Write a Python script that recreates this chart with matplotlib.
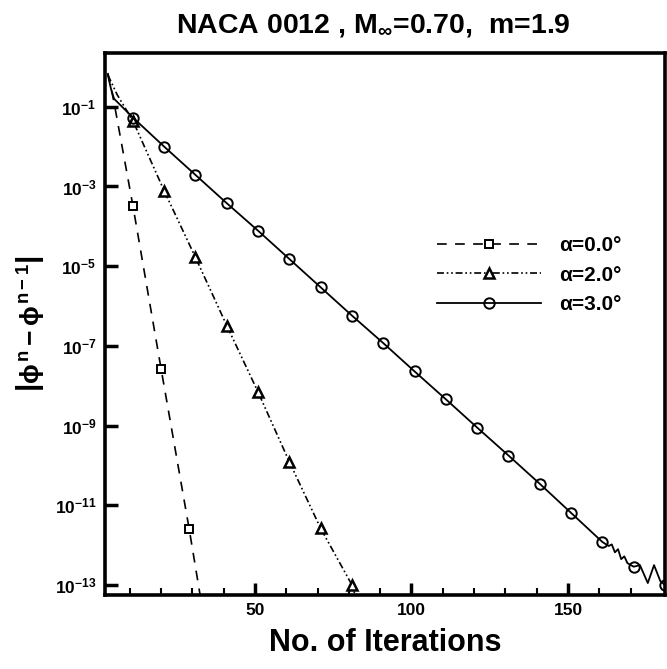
import numpy as np
import matplotlib
matplotlib.use('Agg')
import matplotlib.pyplot as plt
from matplotlib.ticker import FixedLocator, FuncFormatter

plt.rcParams['font.family'] = ['Liberation Sans', 'DejaVu Sans']
plt.rcParams['font.weight'] = 'bold'
plt.rcParams['mathtext.fontset'] = 'custom'
plt.rcParams['mathtext.rm'] = 'Liberation Sans:bold'
plt.rcParams['mathtext.it'] = 'Liberation Sans:bold'
plt.rcParams['mathtext.bf'] = 'Liberation Sans:bold'
plt.rcParams['lines.scale_dashes'] = False

# iteration number and log10 of the residual
sq_x = [3, 5, 11, 20, 29, 33]
sq_e = [-0.15, -0.9, -3.48, -7.57, -11.6, -13.5]
sq_marks = [11, 20, 29]

tri_x = [3, 6, 11, 21, 31, 41, 51, 61, 71, 81, 83]
tri_e = [-0.2, -0.7, -1.35, -3.11, -4.78, -6.49, -8.16, -9.91, -11.58, -13.0, -13.5]
tri_marks = [11, 21, 31, 41, 51, 61, 71, 81]

circ_x = [3, 4, 5, 11, 21, 31, 41, 51, 61, 71, 81, 91, 101, 111, 121, 131, 141, 151, 161,
          163, 164, 165, 166, 167, 168, 169, 171, 173, 175.5, 177.5, 179.5, 181]
circ_e = [-0.2, -0.55, -0.8, -1.27, -2.0, -2.71, -3.42, -4.11, -4.82, -5.53, -6.24, -6.93,
          -7.64, -8.34, -9.05, -9.75, -10.46, -11.19, -11.92,
          -12.02, -11.98, -12.18, -12.1, -12.35, -12.28, -12.45, -12.54,
          -12.5, -12.95, -12.5, -12.9, -13.0]
circ_marks = [11, 21, 31, 41, 51, 61, 71, 81, 91, 101, 111, 121, 131, 141, 151, 161, 171, 181]

labels = ['α=0.0°', 'α=2.0°', 'α=3.0°']
y_ticks = [-1, -3, -5, -7, -9, -11, -13]


def idx(xs, marks):
    return [i for i, v in enumerate(xs) if v in marks]


fig = plt.figure(figsize=(6.67, 6.69), dpi=100)
ax = fig.add_axes([0.157, 0.1106, 0.84, 0.8102])

ax.plot(sq_x, 10.0 ** np.array(sq_e), color='k', lw=1.2, dashes=(7, 6),
        marker='s', ms=5.5, mfc='white', mec='k', mew=1.4,
        markevery=idx(sq_x, sq_marks), label=labels[0])
ax.plot(tri_x, 10.0 ** np.array(tri_e), color='k', lw=1.2, dashes=(5, 2, 1.2, 2, 1.2, 2),
        marker='^', ms=6.5, mfc='white', mec='k', mew=1.8,
        markevery=idx(tri_x, tri_marks), label=labels[1])
ax.plot(circ_x, 10.0 ** np.array(circ_e), color='k', lw=1.3, ls='-',
        marker='o', ms=7.5, mfc='none', mec='k', mew=1.4,
        markevery=idx(circ_x, circ_marks), label=labels[2])

ax.set_yscale('log')
ax.set_ylim(10 ** -13.25, 10 ** 0.35)
ax.set_xlim(2, 181)

ax.yaxis.set_major_locator(FixedLocator([10.0 ** e for e in y_ticks]))
ax.yaxis.set_minor_locator(FixedLocator([]))
ax.yaxis.set_major_formatter(FuncFormatter(lambda v, p: r'$10^{%d}$' % round(np.log10(v))))
ax.set_xticks([50, 100, 150])
ax.set_xticks(np.arange(10, 180, 10), minor=True)

ax.tick_params(axis='both', which='major', direction='in', length=9, width=2.5,
               labelsize=12.5, pad=6)
ax.tick_params(axis='x', which='minor', direction='in', length=5, width=1.5)
for lab in ax.get_xticklabels():
    lab.set_fontweight('bold')
for s in ax.spines.values():
    s.set_linewidth(2.6)

ax.set_xlabel('No. of Iterations', fontsize=22, fontweight='bold', labelpad=7)
ax.set_ylabel(r'$\left|\phi^{n}-\phi^{n-1}\right|$', fontsize=19, labelpad=6)
fig.text(0.56, 0.962, r'NACA 0012 , M$_{\infty}$=0.70,  m=1.9', ha='center', va='center',
         fontsize=20.5, fontweight='bold')

leg = ax.legend(loc='upper left', bbox_to_anchor=(0.593, 0.662), frameon=False,
                fontsize=15, handlelength=5.0, handletextpad=0.85, labelspacing=0.5,
                borderaxespad=0, borderpad=0, numpoints=1)
for t in leg.get_texts():
    t.set_fontweight('bold')

fig.savefig('out.png', dpi=100)
